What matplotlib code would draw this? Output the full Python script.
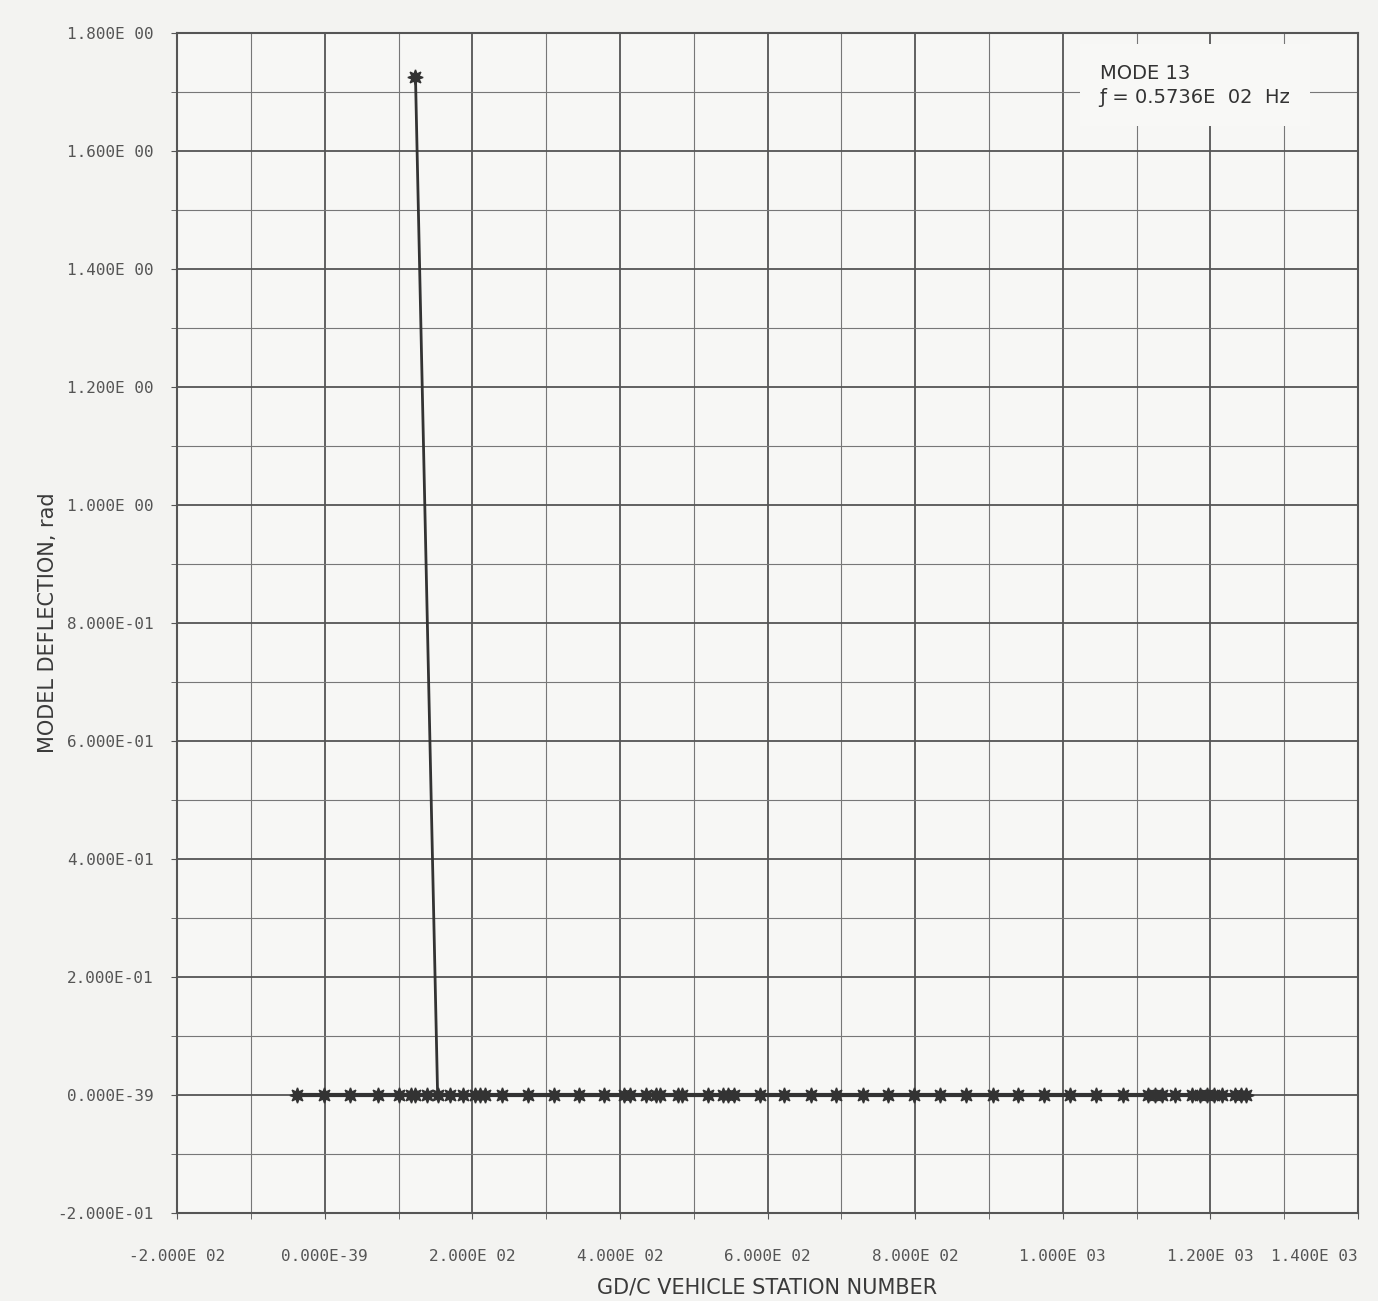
import matplotlib
matplotlib.use("Agg")
import matplotlib.pyplot as plt
from matplotlib.ticker import MultipleLocator, FixedLocator

# Vehicle stations (GD/C station number) and modal deflection (rad)
stations = [-37, -1, 34, 72, 101, 117, 122, 138, 153, 170, 187, 204, 211, 217,
            240, 276, 311, 345, 379, 406, 413, 436, 449, 454, 479, 484, 520,
            540, 547, 554, 590, 622, 659, 693, 729, 763, 798, 834, 869, 905,
            939, 974, 1010, 1045, 1082, 1116, 1125, 1134, 1152, 1175, 1186,
            1195, 1205, 1216, 1234, 1241, 1248]
deflection = [0.0] * len(stations)

# Single large deflection point, tied to the station at 153
spike_station = [123, 153]
spike_deflection = [1.726, 0.0]

x_ticks = [-200, 0, 200, 400, 600, 800, 1000, 1200, 1400]
x_tick_labels = ["-2.000E 02", "0.000E-39", "2.000E 02", "4.000E 02",
                 "6.000E 02", "8.000E 02", "1.000E 03", "1.200E 03",
                 "1.400E 03"]
y_ticks = [-0.2, 0.0, 0.2, 0.4, 0.6, 0.8, 1.0, 1.2, 1.4, 1.6, 1.8]
y_tick_labels = ["-2.000E-01", "0.000E-39", "2.000E-01", "4.000E-01",
                 "6.000E-01", "8.000E-01", "1.000E 00", "1.200E 00",
                 "1.400E 00", "1.600E 00", "1.800E 00"]

paper = "#f3f3f1"
ink = "#3a3a3a"
label_grey = "#555555"

fig = plt.figure(figsize=(13.78, 13.01), dpi=100, facecolor=paper)
ax = fig.add_axes([0.1285, 0.0676, 0.857, 0.907])
ax.set_facecolor("#f7f7f5")

ax.set_xlim(-200, 1400)
ax.set_ylim(-0.2, 1.8)

ax.xaxis.set_major_locator(FixedLocator(x_ticks))
ax.yaxis.set_major_locator(FixedLocator(y_ticks))
ax.xaxis.set_minor_locator(MultipleLocator(100))
ax.yaxis.set_minor_locator(MultipleLocator(0.1))

ax.grid(which="major", color="#555555", linewidth=1.3)
ax.grid(which="minor", color="#777777", linewidth=0.8)
ax.set_axisbelow(True)

for s in ax.spines.values():
    s.set_color("#555555")
    s.set_linewidth(1.5)

mono = {"family": "DejaVu Sans Mono", "size": 11.5, "color": label_grey}
ax.set_xticklabels(x_tick_labels, fontdict=mono)
ax.set_yticklabels(y_tick_labels, fontdict=mono)
ax.tick_params(axis="x", which="both", direction="out", length=4,
               color="#555555", pad=22)
ax.tick_params(axis="y", which="both", direction="out", length=4,
               color="#555555", pad=13)
xlabels = ax.get_xticklabels()
xlabels[-1].set_horizontalalignment("right")
xlabels[-1].set_x(1410)

ax.set_xlabel("GD/C VEHICLE STATION NUMBER", fontsize=15, color=ink,
              fontfamily="DejaVu Sans")
ax.set_ylabel("MODEL DEFLECTION, rad", fontsize=15, color=ink,
              fontfamily="DejaVu Sans")
ax.xaxis.set_label_coords(0.5, -0.055)
ax.yaxis.set_label_coords(-0.101, 0.5)

# Mode shape along the vehicle
ax.plot(stations, deflection, color="#333333", linewidth=3.0,
        marker=(8, 1, 0), markersize=11, markerfacecolor="#333333",
        markeredgecolor="#333333", zorder=3)
ax.plot(spike_station, spike_deflection, color="#333333", linewidth=2.0,
        zorder=3)
ax.plot(spike_station[:1], spike_deflection[:1], linestyle="none",
        marker=(8, 1, 0), markersize=11, color="#333333", zorder=4)

# Mode annotation box
ax.text(1050, 1.748, "MODE 13\nƒ = 0.5736E  02  Hz",
        ha="left", va="top", fontsize=14, color="#333333",
        linespacing=1.35, fontfamily="DejaVu Sans",
        bbox=dict(boxstyle="square,pad=1.0", facecolor="#f8f8f6",
                  edgecolor="none"))

fig.savefig("out.png", dpi=100, facecolor=paper)
